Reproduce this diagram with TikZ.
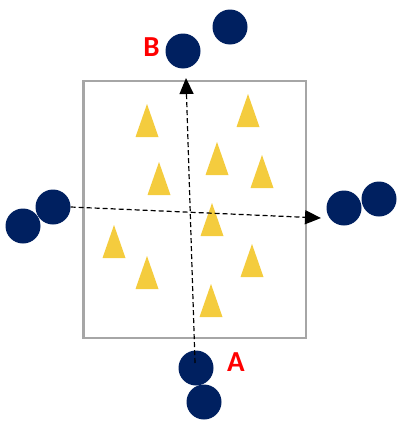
\documentclass[tikz,border=0pt]{standalone}
\usepackage[x11names, rgb]{xcolor}
\usepackage{fontspec}
\newfontfamily\labelfont{Carlito}
\usetikzlibrary{arrows.meta,shapes}

\begin{document}
\begin{tikzpicture}[x=1pt,y=-1pt,
	particle/.style={circle,fill=navy,inner sep=0pt,minimum size=35pt},
	grain/.style={fill=gold},
	marker/.style={text=red,font=\labelfont\bfseries\fontsize{29}{29}\selectfont,inner sep=0pt},
	probe/.style={dash pattern=on 5pt off 3pt,line width=1.2pt,-{Triangle[length=16pt,width=14pt]}}]
  \definecolor{navy}{rgb}{0.0,0.125,0.376};
  \definecolor{gold}{rgb}{0.957,0.8,0.243};
  \definecolor{frame}{rgb}{0.65,0.65,0.65};
	\useasboundingbox (0,0) rectangle (397,423);
	\draw [frame,line width=2.4pt] (83.5,81) rectangle (306,338);
	% grains inside the box, apex given
	\foreach \x/\y in {147/104, 248/94, 217/142, 262/155, 159/162,
		212/203, 114/225, 252/244, 147/256, 211/284}
		\fill [grain] (\x,\y) -- ++(-11.5,33) -- ++(23,0) -- cycle;
	% particles round the box
	\node [particle] (b1) at (183,51) {};
	\node [particle] (b2) at (230,27) {};
	\node [particle] (l1) at (53,207) {};
	\node [particle] (l2) at (23,226) {};
	\node [particle] (r1) at (344,208) {};
	\node [particle] (r2) at (379,199) {};
	\node [particle] (a1) at (196,368) {};
	\node [particle] (a2) at (204,402) {};
	\node [marker] (labB) at (151.5,47) {B};
	\node [marker] (labA) at (236,362) {A};
	% paths across the box
	\coordinate (vstart) at (195,363);
	\coordinate (vend) at (186,78);
	\coordinate (hend) at (321,218);
	\draw [probe] (vstart) -- (vend);
	\draw [probe] (l1.east) -- (hend);
\end{tikzpicture}
\end{document}
